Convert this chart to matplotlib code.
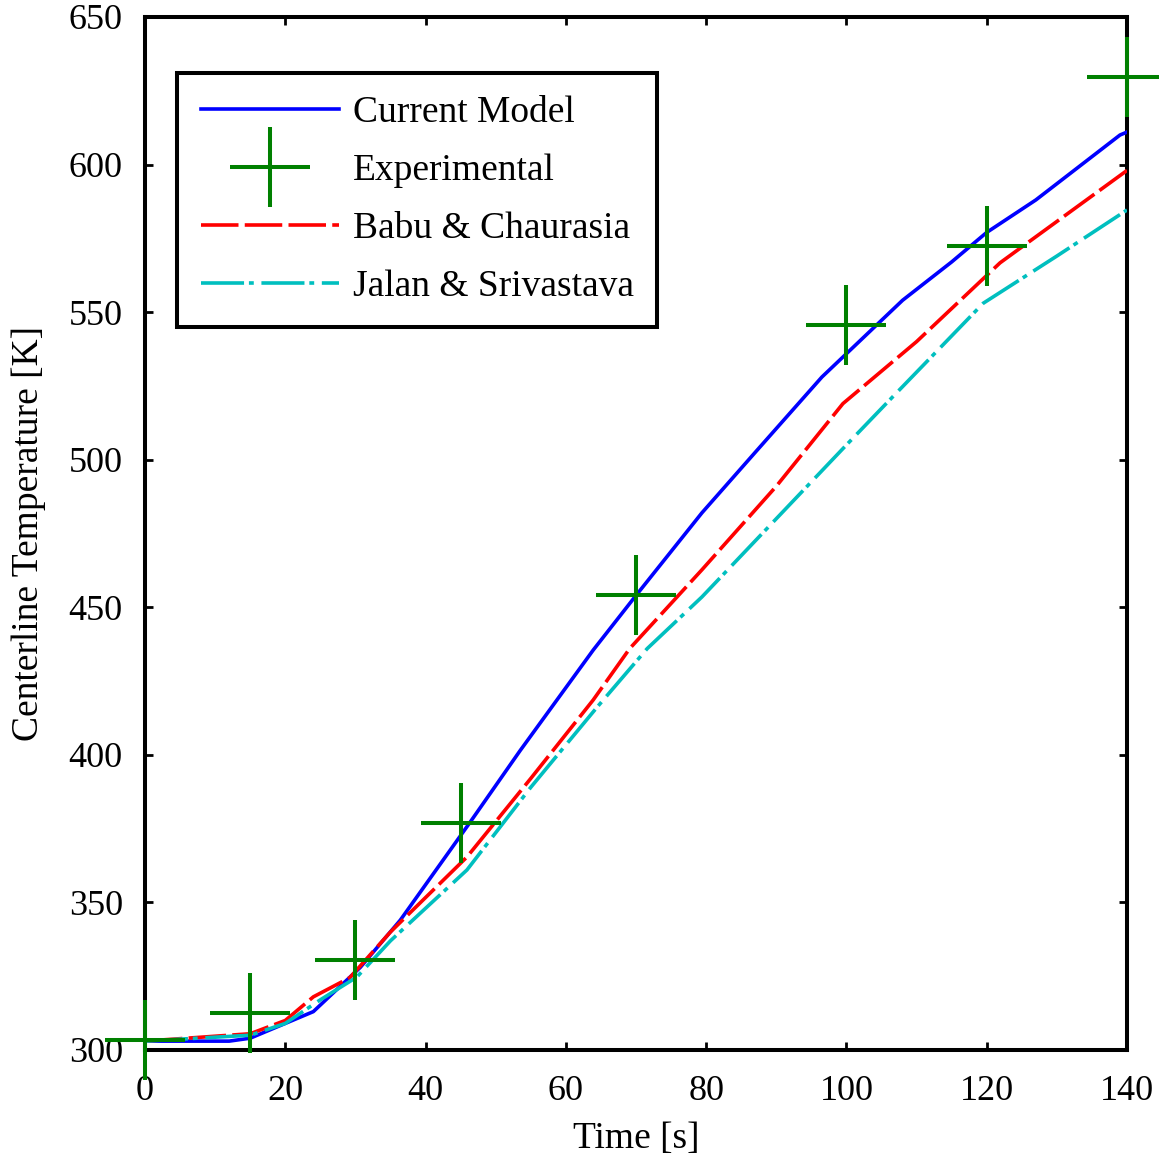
import numpy as np
import matplotlib
matplotlib.use("Agg")
import matplotlib.pyplot as plt

plt.rcParams['font.family'] = ['Liberation Serif', 'DejaVu Serif']
plt.rcParams['lines.scale_dashes'] = False

# time [s] / temperature [K]
t_model = [0, 12, 15, 18, 24, 30.7, 36.4, 46.3, 53.5, 58.7, 63.9, 70, 79.4, 87, 96.5,
           108, 115, 120, 127, 139, 140]
T_model = [303, 303, 304, 307, 313, 328, 344, 377, 401.5, 418.5, 435.5, 454, 482, 502.5, 528,
           554, 567, 577, 588, 610, 611]

t_exp = [0, 15, 30, 45, 70, 100, 120, 140]
T_exp = [303.4, 312.5, 330.5, 377, 454, 545.5, 572.5, 629.7]

t_babu = [0, 15, 20, 24, 29.2, 35, 45.9, 55, 63.9, 69.1, 79.4, 90, 99.5, 110, 121.9, 140]
T_babu = [303, 305.5, 310, 318, 324.5, 340, 365.4, 392, 418.6, 436, 462.7, 491, 519, 540,
          566.7, 598]

t_jalan = [0, 15, 20, 25, 30.2, 35, 45.9, 55, 64.4, 71.6, 79.4, 90, 100, 105.5, 119.5,
           130, 140]
T_jalan = [303, 305, 309, 317, 324.7, 337, 361, 389, 416, 436, 453.5, 480, 505, 518.6,
           553, 569, 584.6]

fig = plt.figure(figsize=(11.59, 11.62), dpi=100)
ax = fig.add_axes([0.1251, 0.0964, 0.8473, 0.889])

lw = 2.6
ax.plot(t_model, T_model, color=(0, 0, 1), lw=lw, label='Current Model', zorder=3)
ax.plot(t_exp, T_exp, linestyle='none', marker='+', markersize=57, markeredgewidth=2.9,
        color=(0, 0.5, 0), label='Experimental', clip_on=False, zorder=4)
ax.plot(t_babu, T_babu, color=(1, 0, 0), lw=lw, dashes=(27, 4.5),
        dash_capstyle='butt', label='Babu & Chaurasia', zorder=3)
ax.plot(t_jalan, T_jalan, color=(0, 0.75, 0.75), lw=lw, dashes=(31, 3.5, 3.5, 5.5),
        dash_capstyle='butt', label='Jalan & Srivastava', zorder=3)

ax.set_xlim(0, 140)
ax.set_ylim(300, 650)
ax.set_xticks(np.arange(0, 141, 20))
ax.set_yticks(np.arange(300, 651, 50))
ax.tick_params(direction='in', length=6, width=2, labelsize=26, top=True, right=True)
ax.tick_params(axis='x', pad=18)
ax.tick_params(axis='y', pad=16)
for s in ax.spines.values():
    s.set_linewidth(2.9)

ax.set_xlabel('Time [s]', fontsize=27, labelpad=10)
ax.set_ylabel('Centerline Temperature [K]', fontsize=27, labelpad=16)

leg = ax.legend(loc='upper left', bbox_to_anchor=(0.033, 0.946), borderaxespad=0,
                fontsize=27, handlelength=3.7, handletextpad=0.35, labelspacing=0.62,
                fancybox=False, framealpha=1, edgecolor='black', borderpad=0.62)
leg.get_frame().set_linewidth(2.9)

fig.savefig('out.png', dpi=100)
